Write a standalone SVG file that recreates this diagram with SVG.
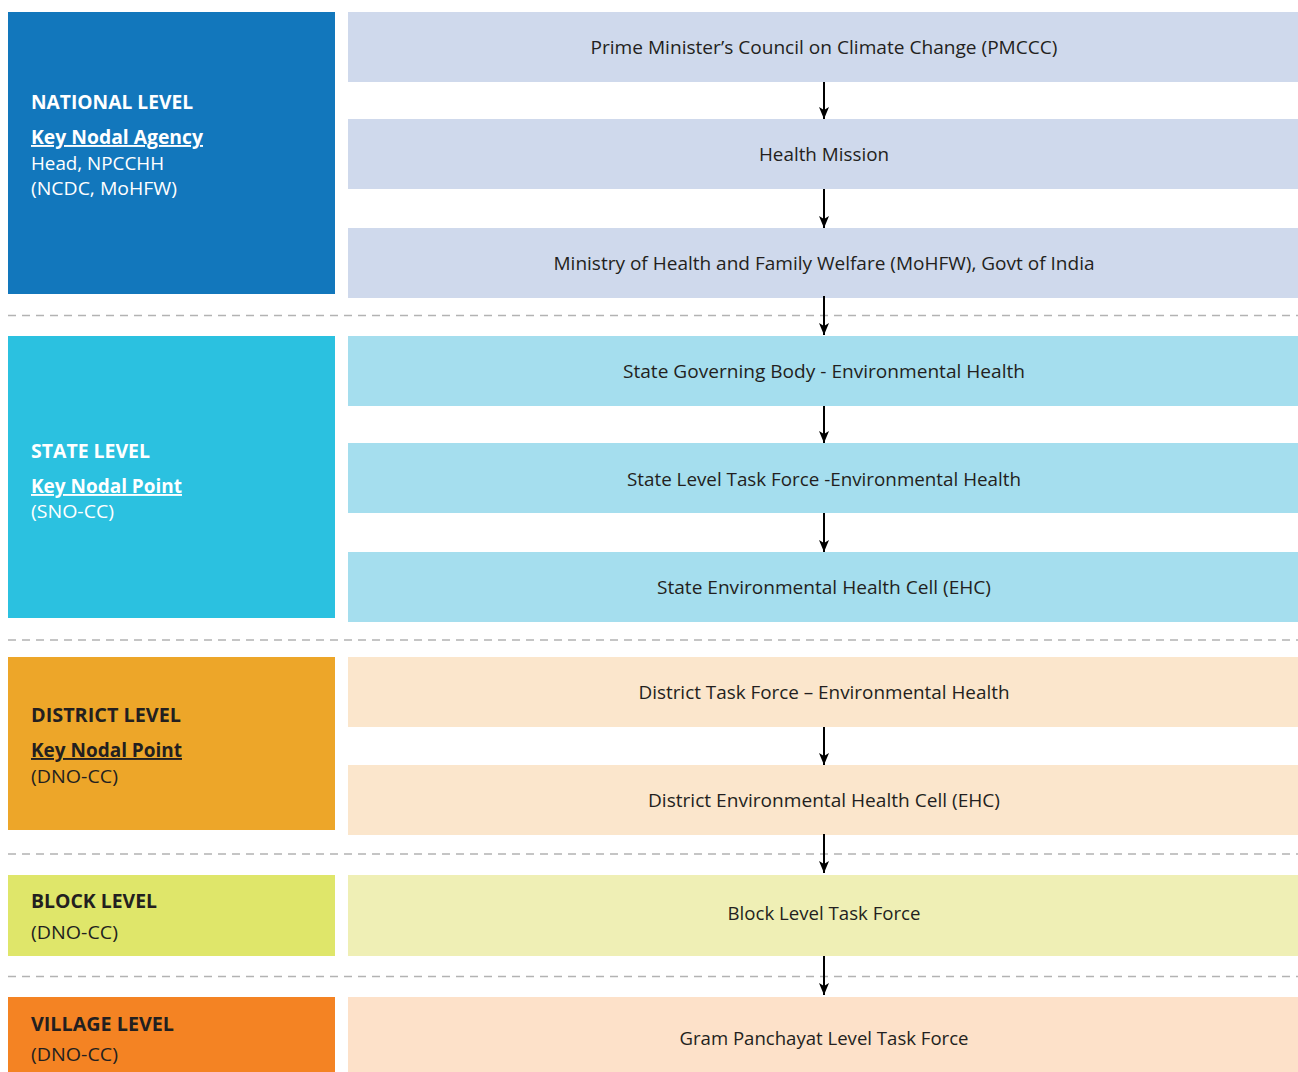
<svg xmlns="http://www.w3.org/2000/svg" width="1298" height="1072" viewBox="0 0 1298 1072">
<defs>
<marker id="ah" viewBox="0 0 12 10" refX="12" refY="5" markerWidth="12" markerHeight="10" markerUnits="userSpaceOnUse" orient="auto">
<path d="M0,0 L3,5 L0,10 L12,5 Z" fill="#000"/>
</marker>
<style>
text{font-family:"Open Sans","Liberation Sans",sans-serif;font-size:19px}
.c{text-anchor:middle;fill:#231F20}
.h{font-weight:bold}
.u{font-weight:bold;text-decoration:underline}
.w{fill:#FFFFFF}
.k{fill:#231F20}
.dash{stroke:#B3B3B3;stroke-width:1.3;stroke-dasharray:8 6;fill:none}
.arr{stroke:#000;stroke-width:2;fill:none}
</style>
</defs>
<rect width="1298" height="1072" fill="#FFFFFF"/>

<g id="separators">
<line class="dash" x1="8" y1="315.5" x2="1298" y2="315.5"/>
<line class="dash" x1="8" y1="640" x2="1298" y2="640"/>
<line class="dash" x1="8" y1="854" x2="1298" y2="854"/>
<line class="dash" x1="8" y1="976.5" x2="1298" y2="976.5"/>
</g>

<g id="national-level">
<rect x="8" y="12" width="327" height="282" fill="#1277BC"/>
<text class="h w" x="31" y="109" textLength="162" lengthAdjust="spacingAndGlyphs">NATIONAL LEVEL</text>
<text class="u w" x="31" y="144" textLength="172" lengthAdjust="spacingAndGlyphs">Key Nodal Agency</text>
<text class="w" x="31" y="170" textLength="133" lengthAdjust="spacingAndGlyphs">Head, NPCCHH</text>
<text class="w" x="31" y="195" textLength="146" lengthAdjust="spacingAndGlyphs">(NCDC, MoHFW)</text>
</g>

<g id="state-level">
<rect x="8" y="336" width="327" height="282" fill="#2BC1E0"/>
<text class="h w" x="31" y="458" textLength="119" lengthAdjust="spacingAndGlyphs">STATE LEVEL</text>
<text class="u w" x="31" y="493" textLength="151" lengthAdjust="spacingAndGlyphs">Key Nodal Point</text>
<text class="w" x="31" y="518" textLength="83" lengthAdjust="spacingAndGlyphs">(SNO-CC)</text>
</g>

<g id="district-level">
<rect x="8" y="657" width="327" height="173" fill="#EDA629"/>
<text class="h k" x="31" y="722" textLength="150" lengthAdjust="spacingAndGlyphs">DISTRICT LEVEL</text>
<text class="u k" x="31" y="757" textLength="151" lengthAdjust="spacingAndGlyphs">Key Nodal Point</text>
<text class="k" x="31" y="783" textLength="87" lengthAdjust="spacingAndGlyphs">(DNO-CC)</text>
</g>

<g id="block-level">
<rect x="8" y="875" width="327" height="81" fill="#DFE66A"/>
<text class="h k" x="31" y="908" textLength="126" lengthAdjust="spacingAndGlyphs">BLOCK LEVEL</text>
<text class="k" x="31" y="939" textLength="87" lengthAdjust="spacingAndGlyphs">(DNO-CC)</text>
</g>

<g id="village-level">
<rect x="8" y="997" width="327" height="75" fill="#F48323"/>
<text class="h k" x="31" y="1031" textLength="143" lengthAdjust="spacingAndGlyphs">VILLAGE LEVEL</text>
<text class="k" x="31" y="1061" textLength="87" lengthAdjust="spacingAndGlyphs">(DNO-CC)</text>
</g>

<g id="pmccc">
<rect x="348" y="12" width="950" height="70" fill="#CFD9EC"/>
<text class="c" x="824" y="54" textLength="467" lengthAdjust="spacingAndGlyphs">Prime Minister’s Council on Climate Change (PMCCC)</text>
</g>
<g id="health-mission">
<rect x="348" y="119" width="950" height="70" fill="#CFD9EC"/>
<text class="c" x="824" y="161" textLength="130" lengthAdjust="spacingAndGlyphs">Health Mission</text>
</g>
<g id="mohfw">
<rect x="348" y="228" width="950" height="70" fill="#CFD9EC"/>
<text class="c" x="824" y="270" textLength="541" lengthAdjust="spacingAndGlyphs">Ministry of Health and Family Welfare (MoHFW), Govt of India</text>
</g>
<g id="state-governing-body">
<rect x="348" y="336" width="950" height="70" fill="#A5DEEE"/>
<text class="c" x="824" y="378" textLength="402" lengthAdjust="spacingAndGlyphs">State Governing Body - Environmental Health</text>
</g>
<g id="state-task-force">
<rect x="348" y="443" width="950" height="70" fill="#A5DEEE"/>
<text class="c" x="824" y="486" textLength="394" lengthAdjust="spacingAndGlyphs">State Level Task Force -Environmental Health</text>
</g>
<g id="state-ehc">
<rect x="348" y="552" width="950" height="70" fill="#A5DEEE"/>
<text class="c" x="824" y="594" textLength="334" lengthAdjust="spacingAndGlyphs">State Environmental Health Cell (EHC)</text>
</g>
<g id="district-task-force">
<rect x="348" y="657" width="950" height="70" fill="#FBE6CC"/>
<text class="c" x="824" y="699" textLength="371" lengthAdjust="spacingAndGlyphs">District Task Force – Environmental Health</text>
</g>
<g id="district-ehc">
<rect x="348" y="765" width="950" height="70" fill="#FBE6CC"/>
<text class="c" x="824" y="807" textLength="352" lengthAdjust="spacingAndGlyphs">District Environmental Health Cell (EHC)</text>
</g>
<g id="block-task-force">
<rect x="348" y="875" width="950" height="81" fill="#EFEFB5"/>
<text class="c" x="824" y="920" textLength="193" lengthAdjust="spacingAndGlyphs">Block Level Task Force</text>
</g>
<g id="gram-panchayat">
<rect x="348" y="997" width="950" height="75" fill="#FDE1C9"/>
<text class="c" x="824" y="1045" textLength="289" lengthAdjust="spacingAndGlyphs">Gram Panchayat Level Task Force</text>
</g>

<g id="connectors">
<line class="arr" x1="824" y1="82" x2="824" y2="119" marker-end="url(#ah)"/>
<line class="arr" x1="824" y1="189" x2="824" y2="228" marker-end="url(#ah)"/>
<line class="arr" x1="824" y1="296" x2="824" y2="335" marker-end="url(#ah)"/>
<line class="arr" x1="824" y1="406" x2="824" y2="443" marker-end="url(#ah)"/>
<line class="arr" x1="824" y1="513" x2="824" y2="552" marker-end="url(#ah)"/>
<line class="arr" x1="824" y1="727" x2="824" y2="765" marker-end="url(#ah)"/>
<line class="arr" x1="824" y1="834" x2="824" y2="873" marker-end="url(#ah)"/>
<line class="arr" x1="824" y1="956" x2="824" y2="995" marker-end="url(#ah)"/>
</g>
</svg>
